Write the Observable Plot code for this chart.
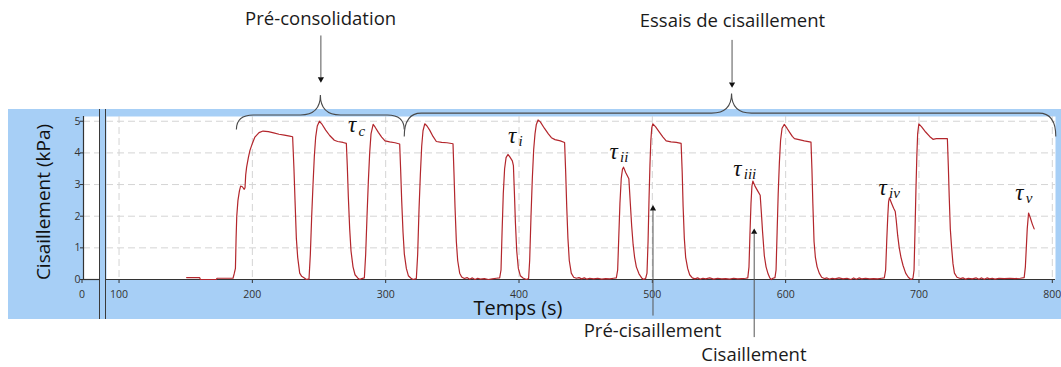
<!DOCTYPE html>
<html><head><meta charset="utf-8">
<script src="https://cdn.jsdelivr.net/npm/d3@7"></script>
<script src="https://cdn.jsdelivr.net/npm/@observablehq/plot@0.6"></script>
<style>
body{margin:0;background:#fff;}
#wrap{position:relative;width:1061px;height:367px;overflow:hidden;}
#band{position:absolute;left:8px;top:108.5px;width:1053px;height:210px;background:#a7cff6;}
#wrap svg{position:absolute;left:0;top:0;}
.vline{position:absolute;top:109px;height:210px;width:1.4px;background:#3a3a3a;z-index:5;}
</style></head>
<body>
<div id="wrap"><div id="band"></div></div>
<script>
// ---- data ----
const xTicks = [100, 200, 300, 400, 500, 600, 700, 800];
const yTicks = [0, 1, 2, 3, 4, 5];
const yGrid = [1, 2, 3, 4, 5];
// mesures : [temps (s), cisaillement (kPa)]
const mesures = [
[150.7,0.06],[155,0.06],[160.5,0.06],[161,0.0],[167,0.0],[173,0.0],[173.5,0.04],[180,0.04],[185.5,0.04],
[186.5,0.2],[187.3,0.35],[187.8,1.3],[188.3,2.0],[189.2,2.5],[190.3,2.8],[191.2,2.95],[192.5,2.93],[193.9,2.85],[194.5,2.9],[195,3.3],[195.7,3.55],[197,3.85],[198.2,4.08],[200,4.3],[201.9,4.5],[205,4.64],[208,4.69],[212,4.67],[216,4.63],[220,4.59],[224,4.56],[228,4.53],[230.2,4.51],
[231.2,3.5],[232,2.5],[233,1.3],[234,0.7],[235.5,0.2],[237,0.1],[239,0.05],[240.5,0.0],
[242.5,0.02],[243.5,0.8],[244.5,2.0],[245.5,3.0],[246.5,3.9],[247.5,4.5],[248.7,4.85],[250.3,5.0],
[252,4.92],[255,4.72],[258,4.55],[261.5,4.4],[264,4.36],[268,4.33],[270.5,4.3],
[271.2,3.6],[272,2.6],[273,1.6],[274,0.9],[275.5,0.4],[277,0.15],[279,0.05],[280.5,0.0],[282,0.03],
[284,0.05],[285,0.8],[286,2.0],[287,3.1],[288,4.0],[289,4.6],[290.6,4.9],
[292,4.82],[294.5,4.65],[297,4.5],[299.5,4.38],[303,4.35],[307,4.32],[310.5,4.28],
[311.2,3.5],[312,2.5],[313,1.5],[314,0.8],[315.5,0.35],[317,0.12],[319,0.04],[320.5,0.0],
[323,0.03],[324,0.8],[325,2.2],[326,3.3],[327,4.2],[328,4.7],[329.3,4.92],
[331,4.85],[333,4.72],[335.5,4.52],[338,4.36],[342,4.33],[346,4.32],[350.5,4.29],
[351.2,3.4],[352,2.3],[353,1.2],[354,0.6],[355.5,0.2],[357,0.08],[359,0.03],
[361,0.06],[363,0.01],[365,0.05],[367,0.0],[369,0.04],[371,0.01],[374,0.03],[377,0.0],[380,0.02],[383,0.04],[385.5,0.05],
[386.5,0.3],[387.3,1.5],[388.2,2.7],[389.2,3.5],[390.3,3.85],[391.7,3.95],[393,3.88],[395,3.75],[395.8,3.6],[396.5,2.8],[397.3,1.8],[398.3,0.9],[399.5,0.35],[401,0.12],[403,0.05],[405.5,0.0],[407.2,0.03],
[408,0.6],[409,2.0],[410,3.2],[411,4.1],[412,4.6],[413,4.9],[414.3,5.04],
[416,4.98],[419,4.78],[422,4.6],[424.3,4.48],[427,4.42],[431,4.38],[434.2,4.33],
[435,3.4],[435.8,2.3],[436.7,1.3],[437.7,0.6],[439.2,0.2],[441,0.07],
[443,0.04],[445,0.06],[447,0.02],[449,0.05],[451,0.01],[453,0.04],[456,0.02],[459,0.04],[462,0.01],[465,0.03],[468,0.02],[471,0.04],[473,0.05],
[474,0.3],[474.8,1.3],[475.7,2.4],[476.7,3.2],[477.6,3.48],[478.4,3.55],[480,3.38],[482.4,3.18],[483.5,2.4],[484.5,1.7],[485.6,1.1],[486.7,0.7],[488,0.4],[490,0.18],[492,0.05],[493.5,0.0],[495,0.04],
[496,0.2],[496.8,1.2],[497.5,2.5],[498.2,3.6],[498.9,4.4],[499.6,4.8],[500.4,4.92],
[502.5,4.82],[505.4,4.65],[508,4.5],[510.4,4.38],[514,4.35],[518,4.33],[521.6,4.3],
[522.4,3.4],[523.1,2.3],[524,1.3],[525,0.7],[526.5,0.35],[528,0.15],[530,0.05],
[532,0.02],[534,0.05],[536,0.01],[538,0.04],[540,0.02],[543,0.05],[546,0.01],[549,0.04],[552,0.02],[555,0.03],[558,0.01],[561,0.04],[564,0.02],[567,0.03],[570,0.04],[571.6,0.05],
[572.5,0.4],[573.2,1.4],[574,2.4],[574.7,2.95],[575.4,3.11],[577,2.95],[579,2.8],[580.9,2.66],[581.8,2.1],[582.7,1.5],[584,0.75],[585.3,0.4],[586.8,0.18],[588,0.06],[589.2,0.0],[590.5,0.04],[592,0.06],
[592.8,0.3],[593.6,1.5],[594.4,2.7],[595.3,3.7],[596.2,4.4],[597.3,4.78],[599,4.9],
[601,4.78],[603,4.65],[605,4.52],[606.6,4.45],[610,4.42],[614,4.38],[619,4.34],
[619.7,3.5],[620.4,2.4],[621.3,1.2],[622.3,0.7],[623.6,0.4],[625.2,0.2],[627,0.07],
[629,0.03],[631,0.05],[633,0.01],[635,0.04],[637,0.02],[640,0.05],[643,0.02],[646,0.04],[649,0.0],[651,0.05],[653,0.01],[655,0.05],[657,0.02],[660,0.04],[663,0.02],[666,0.03],[669,0.02],[672,0.04],[674,0.05],
[675,0.3],[675.8,1.2],[676.6,2.0],[677.2,2.45],[677.8,2.58],[679.5,2.4],[681,2.25],[682.2,2.15],[683,1.85],[684,1.4],[685.2,1.0],[686.5,0.7],[688,0.45],[690,0.2],[692,0.07],[694,0.0],[695.5,0.04],
[696.3,0.3],[697,1.5],[697.7,2.8],[698.4,3.9],[699,4.6],[699.9,4.92],
[702,4.82],[705,4.66],[708,4.52],[710.5,4.43],[713,4.45],[717,4.45],[721.3,4.45],
[722,3.6],[722.7,2.6],[723.5,1.6],[724.5,1.0],[725.5,0.5],[726.6,0.2],[728.5,0.07],
[731,0.03],[733,0.05],[735,0.01],[737,0.04],[740,0.02],[743,0.05],[745,0.01],[747,0.05],[749,0.01],[751,0.05],[753,0.02],[755,0.04],[757,0.01],[760,0.04],[764,0.03],[768,0.04],[772,0.03],[776,0.04],[778.9,0.06],
[779.8,0.4],[780.5,1.0],[781.2,1.6],[782.2,2.1],[783.5,1.95],[785,1.75],[786.4,1.6]
];
// annotations (temps, kPa)
const tauLabels = [
  {sub: "c", t: 271.8, v: 4.88},
  {sub: "i", t: 391.7, v: 4.55},
  {sub: "ii", t: 467.9, v: 4.04},
  {sub: "iii", t: 560.7, v: 3.51},
  {sub: "iv", t: 669.7, v: 2.91},
  {sub: "v", t: 772.2, v: 2.75}
];
const braces = [
  {start: 188.4, end: 314.3, tip: 251.4, endV: 4.72, barV: 5.18, tipV: 5.81},
  {start: 314.3, end: 803.0, tip: 559.8, endV: 4.5, barV: 5.24, tipV: 5.86}
];
const arrows = [
  {t: 251.4, from: 7.71, to: 6.39, head: 6.33, dir: "down"},
  {t: 559.8, from: 7.57, to: 6.23, head: 6.17, dir: "down"},
  {t: 500.5, from: -1.14, to: 2.18, head: 2.24, dir: "up"},
  {t: 576.4, from: -1.82, to: 1.44, head: 1.50, dir: "up"}
];
const notes = [
  {text: "Pré-consolidation", t: 251.2, v: 8.24},
  {text: "Essais de cisaillement", t: 560.1, v: 8.16},
  {text: "Pré-cisaillement", t: 500.1, v: -1.64},
  {text: "Cisaillement", t: 576.2, v: -2.39}
];

// ---- styles ----
const gridStyle = {stroke: "#d4d4d4", strokeOpacity: 1, strokeDasharray: "7,4"};
const sans = "'Open Sans', 'Noto Sans', sans-serif";
const downTri = {draw(ctx, size) {const y = Math.sqrt(size / (3 * Math.sqrt(3))); ctx.moveTo(0, 2 * y); ctx.lineTo(-Math.sqrt(3) * y, -y); ctx.lineTo(Math.sqrt(3) * y, -y); ctx.closePath();}};
const upTri = {draw(ctx, size) {const y = Math.sqrt(size / (3 * Math.sqrt(3))); ctx.moveTo(0, -2 * y); ctx.lineTo(-Math.sqrt(3) * y, y); ctx.lineTo(Math.sqrt(3) * y, y); ctx.closePath();}};

function braceMark(index, scales) {
  const g = d3.create("svg:g").attr("fill", "none").attr("stroke", "#4a4a4a").attr("stroke-width", 1.1);
  for (const b of braces) {
    const x0 = scales.x(b.start), x1 = scales.x(b.end), xm = scales.x(b.tip);
    const ye = scales.y(b.endV), yb = scales.y(b.barV), yt = scales.y(b.tipV);
    const r = 17, rm = 20;
    g.append("path").attr("d",
      `M${x0},${ye} Q${x0},${yb} ${x0 + r},${yb} L${xm - rm},${yb} Q${xm},${yb} ${xm},${yt} Q${xm},${yb} ${xm + rm},${yb} L${x1 - r},${yb} Q${x1},${yb} ${x1},${ye}`);
  }
  return g.node();
}

const intFmt = d => String(d);

const mini = Plot.plot({
  width: 100, height: 367,
  marginLeft: 83, marginRight: 1, marginTop: 116, marginBottom: 88,
  style: {background: "transparent", overflow: "visible", fontFamily: sans},
  x: {domain: [0, 1]},
  y: {domain: [0, 5.15]},
  marks: [
    Plot.frame({fill: "white", stroke: "none"}),
    Plot.gridY({ticks: yGrid, ...gridStyle}),
    Plot.axisY({ticks: yTicks, tickFormat: intFmt, tickSize: 3, tickPadding: 0, fontSize: 10.5, color: "#333", label: null}),
    Plot.axisX({ticks: [0], tickFormat: intFmt, tickSize: 4, tickPadding: 7, fontSize: 10.5, color: "#333", label: null, dx: -1.5}),
    Plot.ruleY([0], {stroke: "#333", strokeWidth: 1.2}),
    Plot.ruleX([0], {stroke: "#333", strokeWidth: 1.2}),
    Plot.text(["Cisaillement (kPa)"], {frameAnchor: "left", textAnchor: "middle", lineAnchor: "middle", rotate: -90, dx: -40, dy: 4, fontSize: 19, fill: "#111", fontFamily: sans})
  ]
});

const main = Plot.plot({
  width: 1061, height: 367,
  marginLeft: 106, marginRight: 6, marginTop: 116, marginBottom: 88,
  style: {background: "transparent", overflow: "visible", fontFamily: sans},
  x: {domain: [90.6, 802.4]},
  y: {domain: [0, 5.15], axis: null},
  marks: [
    Plot.frame({fill: "white", stroke: "none"}),
    Plot.gridX({ticks: xTicks, ...gridStyle}),
    Plot.gridY({ticks: yGrid, ...gridStyle}),
    Plot.axisX({ticks: xTicks, tickFormat: intFmt, tickSize: 4, tickPadding: 7, fontSize: 10.5, color: "#333", label: null}),
    Plot.ruleY([0], {stroke: "#333", strokeWidth: 1.2}),
    Plot.line(mesures, {x: d => d[0], y: d => d[1], stroke: "#b3262c", strokeWidth: 1.2}),
    Plot.text(["Temps (s)"], {frameAnchor: "bottom", textAnchor: "middle", lineAnchor: "middle", dx: -63, dy: 29.5, fontSize: 20, fill: "#111", fontFamily: sans}),
    braceMark,
    Plot.link(arrows, {x1: "t", x2: "t", y1: "from", y2: "to", stroke: "#555", strokeWidth: 1}),
    Plot.dot(arrows.filter(d => d.dir === "down"), {x: "t", y: "head", symbol: downTri, r: 2.3, fill: "#111", stroke: "none"}),
    Plot.dot(arrows.filter(d => d.dir === "up"), {x: "t", y: "head", symbol: upTri, r: 2.3, fill: "#111", stroke: "none"}),
    Plot.text(notes, {x: "t", y: "v", text: "text", fontSize: 18.5, fill: "#1a1a1a", fontFamily: sans}),
    Plot.text(tauLabels, {x: "t", y: "v", text: () => "τ", textAnchor: "start", fontSize: 23, fontStyle: "italic", fontFamily: "'Liberation Serif', serif", fill: "#111"}),
    Plot.text(tauLabels, {x: "t", y: "v", text: "sub", textAnchor: "start", dx: 10.5, dy: 6, fontSize: 15, fontStyle: "italic", fontFamily: "'Liberation Serif', serif", fill: "#111"})
  ]
});

const wrap = document.getElementById("wrap");
wrap.appendChild(mini);
wrap.appendChild(main);
for (const left of [98.6, 104.6]) {
  const d = document.createElement("div");
  d.className = "vline";
  d.style.left = left + "px";
  wrap.appendChild(d);
}
</script>
</body></html>
